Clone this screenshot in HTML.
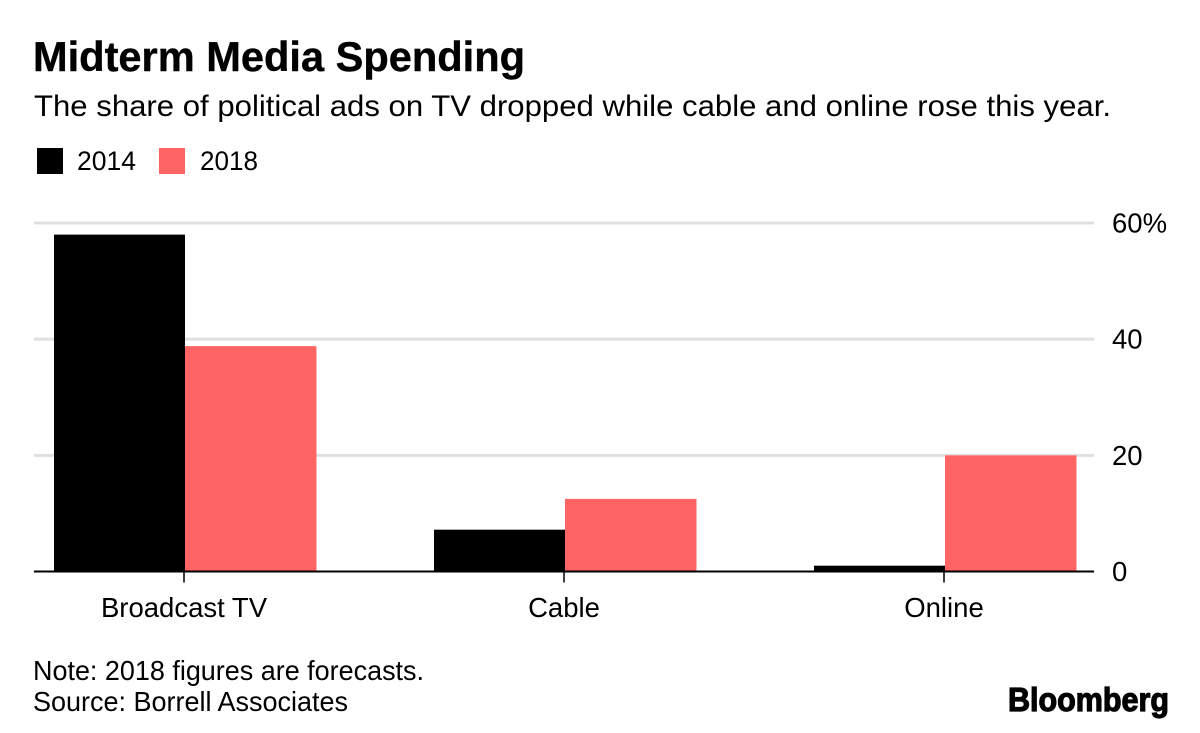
<!DOCTYPE html>
<html lang="en">
<head>
<meta charset="utf-8">
<title>Midterm Media Spending</title>
<style>
html,body{margin:0;padding:0;background:#fff;width:1200px;height:733px;overflow:hidden}
svg{display:block}
text{font-family:"Liberation Sans",sans-serif;fill:#000}
</style>
</head>
<body>
<svg id="chart" xmlns="http://www.w3.org/2000/svg" width="1200" height="733" viewBox="0 0 1200 733">
  <text x="33" y="71" font-size="42" font-weight="700" stroke="#000" stroke-width="0.4" textLength="492" lengthAdjust="spacingAndGlyphs">Midterm Media Spending</text>
  <text x="34" y="116" font-size="30" textLength="1077" lengthAdjust="spacingAndGlyphs">The share of political ads on TV dropped while cable and online rose this year.</text>
  <rect x="37" y="148" width="26" height="26" fill="#000"/>
  <text x="77" y="170" font-size="27" textLength="59" lengthAdjust="spacingAndGlyphs">2014</text>
  <rect x="159" y="148" width="26" height="26" fill="#ff6464"/>
  <text x="200" y="170" font-size="27" textLength="58" lengthAdjust="spacingAndGlyphs">2018</text>
  <g id="plot"></g>
  <text x="33" y="680" font-size="27.5" textLength="391" lengthAdjust="spacingAndGlyphs">Note: 2018 figures are forecasts.</text>
  <text x="33" y="711" font-size="27.5" textLength="315" lengthAdjust="spacingAndGlyphs">Source: Borrell Associates</text>
  <text x="1008" y="711" font-size="33" font-weight="700" stroke="#000" stroke-width="1.2" textLength="161" lengthAdjust="spacingAndGlyphs">Bloomberg</text>
</svg>
<script>
const categories = ['Broadcast TV', 'Cable', 'Online'];
const values2014 = [58, 7.2, 1];
const values2018 = [38.8, 12.5, 20];
const tickValues = [0, 20, 40, 60];
const tickLabels = ['0', '20', '40', '60%'];

const NS = 'http://www.w3.org/2000/svg';
const plot = document.getElementById('plot');
const y0 = 571.5, yScale = (571.5 - 223) / 60;
const firstCenter = 185, step = 380, barW = 131;
const yPos = v => y0 - v * yScale;
const xCenter = i => firstCenter + i * step;

function make(tag, attrs) {
  const el = document.createElementNS(NS, tag);
  for (const k in attrs) el.setAttribute(k, attrs[k]);
  plot.appendChild(el);
  return el;
}

tickValues.forEach((t, i) => {
  if (t !== 0) {
    const grid = make('line', {x1: 34, x2: 1094, y1: yPos(t), y2: yPos(t), stroke: '#e0e0e0', 'stroke-width': 3});
    
    
  }
  const label = make('text', {x: 1112, y: yPos(t) + 9.5, 'font-size': 27.5});
  label.textContent = tickLabels[i];
  
  
});

categories.forEach((c, i) => {
  const cx = xCenter(i);
  const h14 = y0 - yPos(values2014[i]);
  const h18 = y0 - yPos(values2018[i]);
  const b14 = make('rect', {x: cx - barW, y: yPos(values2014[i]), width: barW, height: h14, fill: '#000'});
  
  
  const b18 = make('rect', {x: cx, y: yPos(values2018[i]), width: barW + 0.5, height: h18, fill: '#ff6464'});
  
  
});

const axis = make('line', {x1: 34, x2: 1094, y1: y0, y2: y0, stroke: '#000', 'stroke-width': 2});



categories.forEach((c, i) => {
  const cx = xCenter(i);
  const tick = make('line', {x1: cx - 1, x2: cx - 1, y1: y0, y2: y0 + 11, stroke: '#000', 'stroke-width': 1.5});
  
  
  const lab = make('text', {x: cx - 1, y: 617, 'font-size': 27.5, 'text-anchor': 'middle'});
  lab.textContent = c;
  
  
});
</script>
</body>
</html>
